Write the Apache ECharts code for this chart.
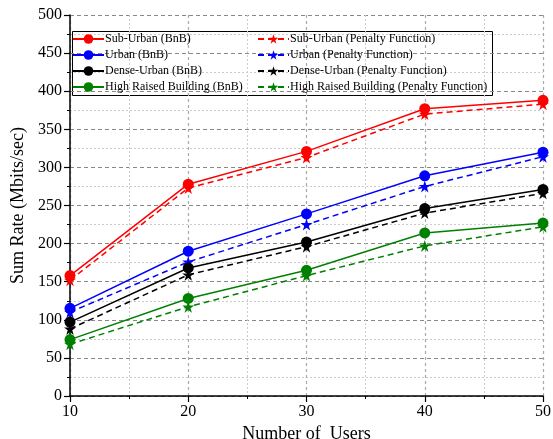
<!DOCTYPE html>
<html><head><meta charset="utf-8">
<script src="https://cdn.jsdelivr.net/npm/echarts@6/dist/echarts.min.js"></script>
<style>html,body{margin:0;padding:0;background:#fff}#c{width:553px;height:439px}</style>
</head><body><div id="c"></div>
<script>
var users = [10, 20, 30, 40, 50];
var subUrbanBnB = [158, 278, 321, 377, 388];
var subUrbanPen = [152, 273, 313, 370, 383];
var urbanBnB = [115, 190, 239, 289, 320];
var urbanPen = [110, 176, 225, 275, 314];
var denseBnB = [97, 168, 202, 246, 271];
var densePen = [88, 159, 196, 240, 266];
var hrbBnB = [74, 128, 165, 214, 227];
var hrbPen = [68, 117, 158, 197, 222];

var names = ['Sub-Urban (BnB)', 'Urban (BnB)', 'Dense-Urban (BnB)', 'High Raised Building (BnB)',
  'Sub-Urban (Penalty Function)', 'Urban (Penalty Function)', 'Dense-Urban (Penalty Function)', 'High Raised Building (Penalty Function)'];
var colors = ['#ff0000', '#0000ff', '#000000', '#008000'];
var bnb = [subUrbanBnB, urbanBnB, denseBnB, hrbBnB];
var pen = [subUrbanPen, urbanPen, densePen, hrbPen];

function pairs(vals) { return users.map(function (u, i) { return [u, vals[i]]; }); }

var series = [];
for (var i = 0; i < 4; i++) {
  series.push({
    name: names[i], type: 'line', data: pairs(bnb[i]), symbol: 'circle', symbolSize: 11,
    lineStyle: { color: colors[i], width: 1.5 }, itemStyle: { color: colors[i] }, z: 3
  });
}
for (var j = 0; j < 4; j++) {
  series.push({
    name: names[4 + j], type: 'line', data: pairs(pen[j]), symbol: 'path://M50,0 L61.8,36.2 L100,36.2 L69.1,58.8 L80.9,95.1 L50,72.7 L19.1,95.1 L30.9,58.8 L0,36.2 L38.2,36.2 Z', symbolSize: 12,
    lineStyle: { color: colors[j], width: 1.5, type: [6, 4] }, itemStyle: { color: colors[j] }, z: 2
  });
}

var font = '"Liberation Serif", "Times New Roman", serif';
var chart = echarts.init(document.getElementById('c'), null, { renderer: 'canvas' });
chart.setOption({
  animation: false,
  textStyle: { fontFamily: font },
  grid: { left: 70, right: 10, top: 15, bottom: 43, containLabel: false, outerBoundsMode: 'none' },
  legend: [
    { data: names.slice(0, 4), orient: 'vertical', left: 72, top: 33, itemGap: 4, itemWidth: 31, itemHeight: 12,
      textStyle: { fontFamily: font, fontSize: 12, color: '#000', padding: [0, 0, 0, -4] }, padding: [0, 0, 0, 0] },
    { data: names.slice(4), orient: 'vertical', left: 257, top: 33, itemGap: 4, itemWidth: 31, itemHeight: 12,
      textStyle: { fontFamily: font, fontSize: 12, color: '#000', padding: [0, 0, 0, -4] }, padding: [0, 0, 0, 0] }
  ],
  graphic: [{ type: 'rect', left: 72, top: 31, shape: { width: 420, height: 64 },
    style: { fill: '#fff', stroke: '#000', lineWidth: 1 }, z: 0 }],
  xAxis: {
    type: 'value', min: 10, max: 50, interval: 10,
    name: 'Number of  Users', nameLocation: 'middle', nameGap: 22,
    nameTextStyle: { fontFamily: font, fontSize: 18, color: '#000' },
    axisLine: { lineStyle: { color: '#000', width: 1.5 } },
    axisTick: { show: true, length: 6, lineStyle: { color: '#000', width: 1.2 } },
    minorTick: { show: true, splitNumber: 2, length: 3, lineStyle: { color: '#000' } },
    axisLabel: { fontFamily: font, fontSize: 16, color: '#000', margin: 8 },
    splitLine: { show: true, lineStyle: { color: '#aaa', type: [3, 3], width: 1.2 } },
    minorSplitLine: { show: true, lineStyle: { color: '#ccc', type: [2, 2], width: 1 } }
  },
  yAxis: {
    type: 'value', min: 0, max: 500, interval: 50,
    name: 'Sum Rate (Mbits/sec)', nameLocation: 'middle', nameGap: 42,
    nameTextStyle: { fontFamily: font, fontSize: 18, color: '#000' },
    axisLine: { show: true, lineStyle: { color: '#000', width: 1.5 } },
    axisTick: { show: true, length: 6, lineStyle: { color: '#000', width: 1.2 } },
    minorTick: { show: true, splitNumber: 2, length: 3, lineStyle: { color: '#000' } },
    axisLabel: { fontFamily: font, fontSize: 16, color: '#000', margin: 8 },
    splitLine: { show: true, lineStyle: { color: '#888', type: [4, 3], width: 1 } },
    minorSplitLine: { show: true, lineStyle: { color: '#ccc', type: [2, 2], width: 1 } }
  },
  series: series
});
</script></body></html>
